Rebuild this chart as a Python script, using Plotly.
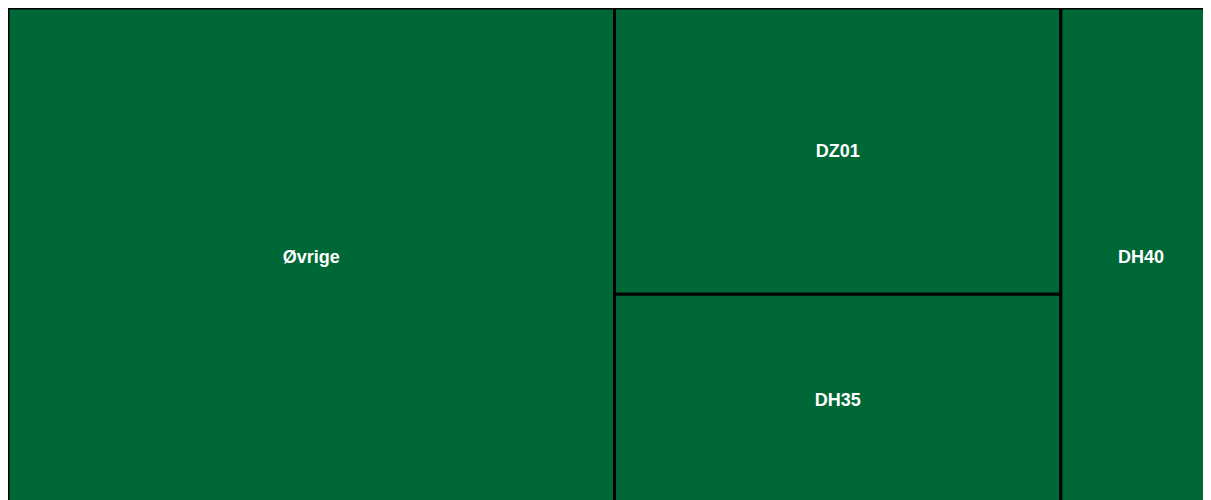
import plotly.graph_objects as go

labels = ["Øvrige", "DZ01", "DH35", "DH40"]
values = [50.0, 21.2, 15.6, 13.2]

fig = go.Figure(go.Treemap(
    labels=labels,
    parents=[""] * len(labels),
    values=values,
    sort=True,
    marker=dict(colors=["#006837"] * len(labels), line=dict(color="black", width=3),
                pad=dict(t=0, l=0, r=0, b=0)),
    textfont=dict(family="Liberation Sans, Arial, sans-serif", size=18, color="white"),
    texttemplate="<b>%{label}</b>",
    textposition="middle center",
    pathbar=dict(visible=False),
    tiling=dict(pad=0, packing="squarify", squarifyratio=1.618),
))
fig.update_layout(
    width=1213, height=497,
    margin=dict(l=0, r=0, t=0, b=0),
    paper_bgcolor="white",
)
fig.write_html("out.html")
